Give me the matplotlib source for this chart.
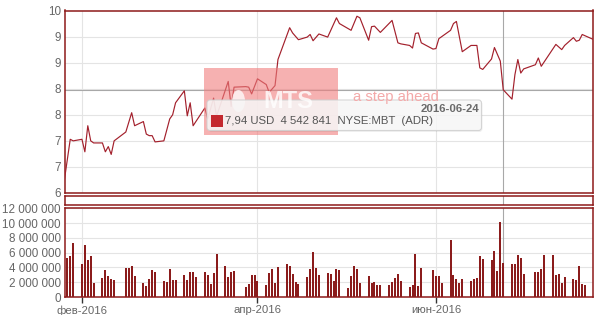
import matplotlib
matplotlib.use("Agg")
import matplotlib.pyplot as plt
import matplotlib.dates as mdates
from matplotlib.patches import Rectangle, FancyBboxPatch, Ellipse
from matplotlib.ticker import FuncFormatter, FixedLocator, MultipleLocator
import numpy as np
import pandas as pd

plt.rcParams['font.family'] = ['Liberation Sans', 'DejaVu Sans']

# ---------------- data ----------------
price_dates = ["2016-01-26", "2016-01-28", "2016-01-29", "2016-02-01", "2016-02-02", "2016-02-03",
               "2016-02-04", "2016-02-05", "2016-02-08", "2016-02-09", "2016-02-10", "2016-02-11",
               "2016-02-12", "2016-02-16", "2016-02-18", "2016-02-19", "2016-02-22", "2016-02-23",
               "2016-02-24", "2016-02-25", "2016-02-26", "2016-02-29", "2016-03-02", "2016-03-03",
               "2016-03-04", "2016-03-07", "2016-03-08", "2016-03-09", "2016-03-10", "2016-03-14",
               "2016-03-15", "2016-03-17", "2016-03-18", "2016-03-22", "2016-03-23", "2016-03-24",
               "2016-03-28", "2016-03-29", "2016-03-30", "2016-04-01", "2016-04-04", "2016-04-05",
               "2016-04-07", "2016-04-08", "2016-04-12", "2016-04-13", "2016-04-15", "2016-04-18",
               "2016-04-19", "2016-04-20", "2016-04-22", "2016-04-25", "2016-04-28", "2016-04-29",
               "2016-05-03", "2016-05-05", "2016-05-06", "2016-05-09", "2016-05-10", "2016-05-11",
               "2016-05-13", "2016-05-17", "2016-05-19", "2016-05-20", "2016-05-23", "2016-05-24",
               "2016-05-25", "2016-05-26", "2016-05-27", "2016-05-31", "2016-06-01", "2016-06-02",
               "2016-06-06", "2016-06-07", "2016-06-08", "2016-06-10", "2016-06-13", "2016-06-15",
               "2016-06-16", "2016-06-17", "2016-06-20", "2016-06-21", "2016-06-23", "2016-06-24",
               "2016-06-27", "2016-06-28", "2016-06-29", "2016-06-30", "2016-07-01", "2016-07-05",
               "2016-07-06", "2016-07-07", "2016-07-12", "2016-07-14", "2016-07-15", "2016-07-18",
               "2016-07-19", "2016-07-20", "2016-07-21", "2016-07-25"]
price_values = [6.30, 7.08, 7.05, 7.08, 6.84, 7.34, 7.05, 7.01, 7.01, 6.84,
                6.94, 6.79, 7.05, 7.22, 7.59, 7.34, 7.42, 7.18, 7.15, 7.15,
                7.03, 7.05, 7.47, 7.55, 7.78, 8.01, 7.53, 7.78, 7.34, 7.68,
                7.47, 7.87, 7.52, 8.19, 7.71, 8.08, 8.09, 8.08, 7.95, 8.24,
                8.13, 7.98, 8.11, 8.61, 9.22, 9.12, 8.99, 9.04, 9.09, 8.97,
                9.10, 9.04, 9.41, 9.30, 9.17, 9.44, 9.41, 8.98, 9.24, 9.25,
                9.13, 9.36, 8.93, 8.91, 8.88, 8.83, 9.11, 9.12, 8.93, 8.81,
                8.82, 9.01, 9.17, 9.30, 9.34, 8.76, 8.88, 8.88, 8.45, 8.42,
                8.62, 8.84, 8.58, 8.03, 7.85, 8.32, 8.61, 8.35, 8.43, 8.51,
                8.64, 8.48, 8.90, 8.80, 8.88, 9.03, 8.96, 8.98, 9.09, 8.99]

# trading days (NYSE) with volume, 2016-01-27 .. 2016-07-22
volume_start = "2016-01-27"
volume_end = "2016-07-22"
exchange_holidays = ["2016-02-15", "2016-03-25", "2016-05-30", "2016-07-04"]
volume_mln = [5.30, 5.50, 7.30,
              4.45, 7.00, 5.00, 5.50, 1.90,
              2.56, 3.64, 2.83, 2.43, 2.25,
              3.96, 3.96, 4.18, 2.83,
              1.85, 1.44, 2.43, 3.62, 3.35,
              2.13, 2.00, 3.78, 2.30, 2.30,
              2.97, 2.30, 3.37, 3.37, 2.68,
              3.37, 2.97, 1.77, 3.25, 5.80,
              4.18, 2.70, 3.37, 3.50,
              1.35, 1.75, 2.97, 2.97, 2.16,
              1.60, 3.24, 3.77, 1.89, 4.04,
              4.45, 4.18, 3.10, 2.00, 1.75,
              2.70, 3.77, 6.07, 3.90, 2.97,
              3.24, 3.10, 2.16, 3.77, 3.64,
              1.20, 2.83, 4.18, 3.77, 1.89,
              2.83, 1.89, 2.00, 1.60, 1.60,
              1.60, 2.00, 2.56, 3.10, 2.16,
              1.35, 1.60, 5.80, 1.48, 3.90,
              3.64, 2.83, 2.83, 1.89,
              7.70, 2.97, 2.43, 1.89, 2.43,
              2.16, 2.43, 2.56, 5.53, 5.12,
              5.00, 6.20, 3.50, 10.10, 4.542841,
              4.45, 4.45, 5.66, 5.26, 3.10,
              3.37, 3.37, 3.78, 5.66,
              5.66, 2.97, 3.10, 1.89, 2.70,
              2.43, 2.30, 4.18, 1.75, 1.60]

month_ticks = ["2016-02-01", "2016-04-01", "2016-06-01"]
month_labels = ["фев-2016", "апр-2016", "июн-2016"]

hover_date = "2016-06-24"
tooltip_price_text = "7,94 USD"
tooltip_volume_text = "4 542 841"
tooltip_symbol = "NYSE:MBT  (ADR)"

# ---------------- build ----------------
p_dates = pd.to_datetime(price_dates)
v_dates = pd.bdate_range(volume_start, volume_end)
v_dates = v_dates[~v_dates.isin(pd.to_datetime(exchange_holidays))]
volume = np.array(volume_mln) * 1e6
hover = pd.Timestamp(hover_date)
hover_price = price_values[list(p_dates).index(hover)]

frame_c = '#8e1a1a'
line_c = '#a3202c'
bar_c = '#8b1c1c'
grid_c = '#e4e4e4'
lab_c = '#666666'
cross_c = '#a8a8a8'

W, H = 614, 315
fig = plt.figure(figsize=(W / 100, H / 100), dpi=100)

def px_axes(x0, y0, x1, y1):
    return fig.add_axes([x0 / W, 1 - y1 / H, (x1 - x0) / W, (y1 - y0) / H])

ax1 = px_axes(65, 10.5, 593.3, 193)
axs = px_axes(65, 195.7, 593.3, 205)
ax2 = px_axes(65, 208.3, 593.3, 297)

xmin = pd.Timestamp("2016-01-26 05:00")
xmax = pd.Timestamp("2016-07-24 19:00")

for ax in (ax1, axs, ax2):
    ax.set_xlim(xmin, xmax)
    for s in ax.spines.values():
        s.set_color(frame_c)
        s.set_linewidth(1.1)
    ax.axvline(hover, color=cross_c, lw=0.8, zorder=1)

# price panel
ax1.plot(p_dates, price_values, color=line_c, lw=0.85, zorder=3)
ax1.set_ylim(6.05, 9.55)
ax1.yaxis.set_major_locator(FixedLocator(np.arange(6.05, 9.56, 0.5)))
ax1.yaxis.set_major_formatter(FuncFormatter(lambda v, p: f"{v:.0f}"))
ax1.axhline(hover_price, color=cross_c, lw=0.8, zorder=2)

# separator strip
axs.set_ylim(0, 1)
axs.set_yticks([])
axs.set_xticks([])

# volume panel
ax2.vlines(v_dates, 0, volume, colors=bar_c, lw=1.1, antialiased=False, zorder=3)
ax2.set_ylim(0, 12e6)
ax2.yaxis.set_major_locator(MultipleLocator(2e6))
ax2.yaxis.set_major_formatter(FuncFormatter(lambda v, p: f"{int(round(v)):,}".replace(",", " ")))

for ax in (ax1, ax2):
    ax.xaxis.set_major_locator(FixedLocator(mdates.date2num(pd.to_datetime(month_ticks))))
    ax.grid(True, color=grid_c, lw=0.8, zorder=0)
    ax.set_axisbelow(True)
    ax.tick_params(axis='y', length=0, pad=3, labelsize=8.4, labelcolor=lab_c)

ax1.tick_params(axis='x', length=0, labelbottom=False)
ax2.set_xticklabels(month_labels)
ax2.tick_params(axis='x', length=4, width=1, color='#333333', pad=2,
                labelsize=8.2, labelcolor=lab_c)

# ---------------- overlay: watermark & tooltip (pixel coords) ----------------
ov = fig.add_axes([0, 0, 1, 1], zorder=10)
ov.set_xlim(0, W)
ov.set_ylim(H, 0)
ov.axis('off')

ov.add_patch(Rectangle((204, 68), 134, 67, facecolor='#f07d7d', alpha=0.6, lw=0))
ov.add_patch(Ellipse((238.5, 101), 13, 22, facecolor='white', alpha=0.75, lw=0))
ov.text(288, 102, "MTS", color='white', alpha=0.8, fontsize=17, fontweight='bold',
        ha='center', va='center')
ov.text(353, 96.5, "a step ahead", color='#f4a9a9', fontsize=10.7, ha='left', va='center')

# tooltip shadow + box
ov.add_patch(FancyBboxPatch((208.5, 101.5), 274, 30.5, boxstyle="round,pad=0,rounding_size=3",
                            facecolor='#000000', alpha=0.06, lw=0))
ov.add_patch(FancyBboxPatch((207, 100), 274.5, 30.5, boxstyle="round,pad=0,rounding_size=3",
                            facecolor='#f9f9f9', alpha=0.85, edgecolor='#cfcfcf', lw=0.8))
ov.add_patch(Rectangle((211, 115), 11.7, 11.7, facecolor='#c4292f', lw=0))
ov.text(225, 121, f"{tooltip_price_text}  {tooltip_volume_text}  {tooltip_symbol}",
        color='#555555', fontsize=8.2, ha='left', va='center')
ov.text(479.5, 109, hover.strftime("%Y-%m-%d"), color='#6a6a6a', fontsize=8.2,
        fontweight='semibold', ha='right', va='center')

fig.savefig("out.png", dpi=100)
